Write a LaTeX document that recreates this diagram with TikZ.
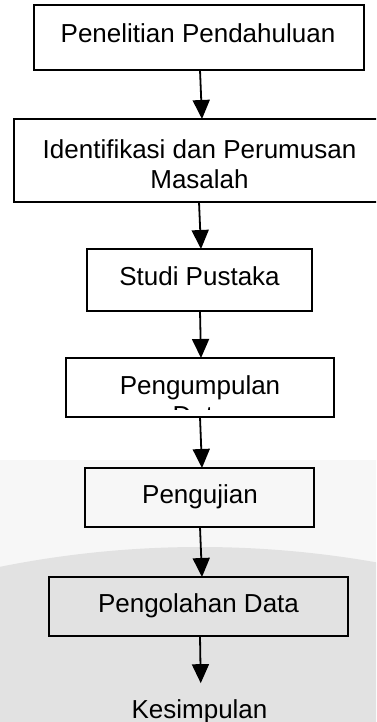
\documentclass[tikz,border=0pt]{standalone}
\usepackage{fontspec}
\setmainfont{Liberation Sans}
\usetikzlibrary{arrows.meta}
\definecolor{bglight}{HTML}{F7F7F7}
\definecolor{bgdark}{HTML}{E2E2E2}
\begin{document}
\begin{tikzpicture}[x=1pt,y=-1pt,
  box/.style={draw=black, line width=1.8pt, inner sep=0pt, outer sep=0pt},
  txt/.style={inner sep=0pt, outer sep=0pt, anchor=base, font=\fontsize{26pt}{29pt}\selectfont, align=center},
  arr/.style={line width=1.8pt, -{Triangle[width=17pt,length=19pt]}}]
\useasboundingbox (0,0) rectangle (376,722);
\clip (0,0) rectangle (376,722);
\fill[white] (0,0) rectangle (376,722);
\fill[bglight] (0,460) rectangle (376,722);
\fill[bgdark] (200,1557) circle (1010);
% boxes
\node[box, minimum width=330pt, minimum height=65pt] (b1) at (199,37.5) {};
\node[box, minimum width=376pt, minimum height=83pt] (b2) at (202,160.5) {};
\node[box, minimum width=225pt, minimum height=62pt] (b3) at (199.5,280) {};
\node[box, minimum width=268pt, minimum height=59pt] (b4) at (200,387.5) {};
\node[box, minimum width=229pt, minimum height=59pt] (b5) at (199.5,497.5) {};
\node[box, minimum width=299pt, minimum height=59pt] (b6) at (198.5,606.5) {};
% texts
\node[txt] (t1) at (198,43) {Penelitian Pendahuluan};
\node[txt] (t2) at (199.5,188) {Identifikasi dan Perumusan\\Masalah};
\node[txt] (t3) at (199.5,285) {Studi Pustaka};
\node[txt] (t4) at (200,394) {Pengumpulan};
\begin{scope}
  \clip (60,350) rectangle (340,409);
  \node[txt] (t4b) at (200,424) {Data};
\end{scope}
\node[txt] (t5) at (200,503) {Pengujian};
\node[txt] (t6) at (198.5,612) {Pengolahan Data};
\node[txt] (k) at (199.5,718) {Kesimpulan};
% arrows
\draw[arr] ([xshift=1pt]b1.south) -- ([xshift=0pt]b2.north);
\draw[arr] ([xshift=-3pt]b2.south) -- ([xshift=1.5pt]b3.north);
\draw[arr] ([xshift=0.5pt]b3.south) -- ([xshift=1pt]b4.north);
\draw[arr] ([xshift=0pt]b4.south) -- ([xshift=2.5pt]b5.north);
\draw[arr] ([xshift=0.5pt]b5.south) -- ([xshift=3.5pt]b6.north);
\draw[arr, shorten >=16pt] ([xshift=1.5pt]b6.south) -- ([xshift=1.5pt]k.north);
\end{tikzpicture}
\end{document}
